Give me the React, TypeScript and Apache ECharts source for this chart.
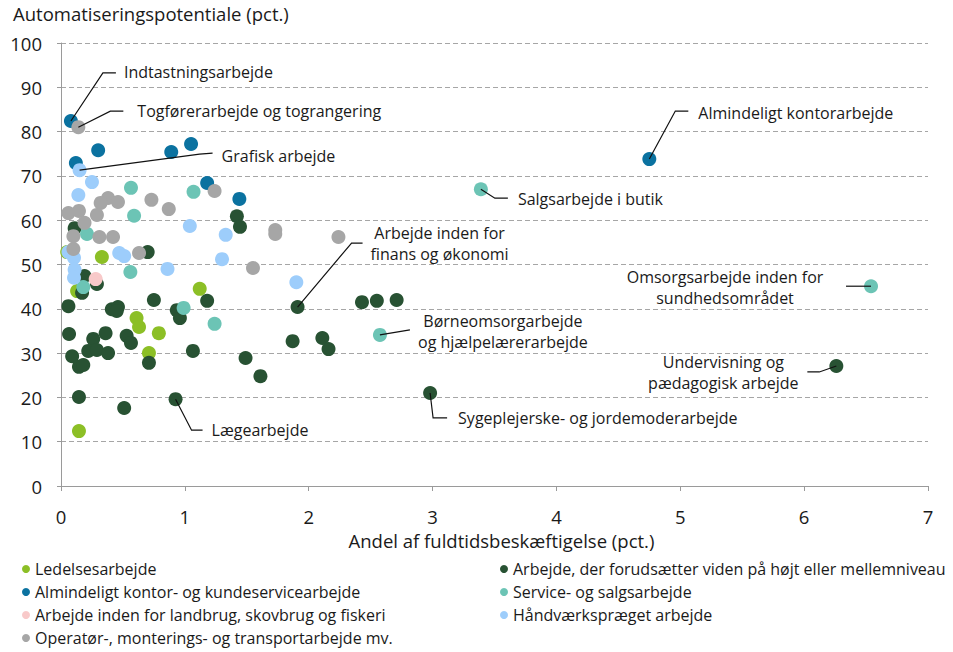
import React, { useEffect, useRef } from 'react';
import * as echarts from 'echarts';

const FONT = '"Open Sans", "Noto Sans", sans-serif';
const TEXT_COLOR = '#1a1a1a';

// Series names (legend order)
const nameLedelse = 'Ledelsesarbejde';
const nameHoejt = 'Arbejde, der forudsætter viden på højt eller mellemniveau';
const nameKontor = 'Almindeligt kontor- og kundeservicearbejde';
const nameService = 'Service- og salgsarbejde';
const nameLandbrug = 'Arbejde inden for landbrug, skovbrug og fiskeri';
const nameHaandvaerk = 'Håndværkspræget arbejde';
const nameOperatoer = 'Operatør-, monterings- og transportarbejde mv.';

const colorLedelse = '#8CBF26';
const colorHoejt = '#285233';
const colorKontor = '#0B72A0';
const colorService = '#6CC4B5';
const colorLandbrug = '#F8C9C9';
const colorHaandvaerk = '#9DCDFB';
const colorOperatoer = '#A6A6A6';

// [andel af fuldtidsbeskæftigelse, automatiseringspotentiale]
const ledelseData: [number, number][] = [
  [0.33, 51.7], [0.05, 52.8], [0.13, 44.0], [1.12, 44.5], [0.61, 37.9],
  [0.63, 35.9], [0.79, 34.5], [0.71, 30.0], [0.145, 12.4],
];

const hoejtData: [number, number][] = [
  [1.42, 60.9], [1.445, 58.5], [0.70, 52.8], [0.11, 58.2], [0.19, 47.4],
  [0.29, 45.6], [0.17, 43.6], [0.06, 40.6], [0.41, 39.9], [0.46, 40.4],
  [0.45, 39.5], [0.75, 42.0], [0.935, 39.7], [0.96, 37.9], [0.065, 34.3],
  [0.26, 33.2], [0.36, 34.5], [0.53, 33.9], [0.565, 32.3], [0.09, 29.3],
  [0.22, 30.5], [0.29, 30.7], [0.38, 30.0], [0.145, 26.9], [0.18, 27.3],
  [0.71, 27.8], [1.065, 30.5], [1.49, 28.9], [0.145, 20.1], [0.51, 17.6],
  [0.925, 19.6], [1.18, 41.8], [1.61, 24.8], [1.91, 40.4], [2.43, 41.5],
  [2.55, 41.8], [2.71, 42.0], [1.87, 32.7], [2.11, 33.4], [2.16, 30.9],
  [2.98, 21.0], [6.26, 27.1],
];

const kontorData: [number, number][] = [
  [0.08, 82.4], [0.30, 75.8], [0.89, 75.4], [1.05, 77.2], [0.12, 72.9],
  [1.18, 68.4], [1.44, 64.8], [4.75, 73.8],
];

const serviceData: [number, number][] = [
  [0.565, 67.3], [1.07, 66.4], [0.59, 61.0], [0.21, 56.9], [0.56, 48.3],
  [0.18, 44.9], [0.99, 40.2], [1.24, 36.6], [2.575, 34.1], [3.39, 67.0],
  [6.54, 45.1],
];

const landbrugData: [number, number][] = [[0.28, 46.7]];

const haandvaerkData: [number, number][] = [
  [0.15, 71.3], [0.25, 68.6], [0.14, 65.7], [1.04, 58.7], [1.33, 56.7],
  [1.30, 51.2], [0.86, 49.0], [1.90, 46.0], [0.47, 52.6], [0.51, 51.9],
  [0.06, 52.8], [0.105, 51.5], [0.11, 48.8], [0.105, 47.0],
];

const operatoerData: [number, number][] = [
  [0.14, 81.0], [1.24, 66.6], [0.73, 64.6], [0.87, 62.5], [0.38, 65.0],
  [0.32, 63.9], [0.46, 64.1], [0.06, 61.6], [0.145, 62.1], [0.29, 61.2],
  [0.19, 59.4], [0.10, 56.4], [0.31, 56.2], [0.42, 56.2], [0.10, 53.5],
  [0.63, 52.6], [1.55, 49.2], [1.73, 57.8], [1.73, 56.9], [2.24, 56.2],
];

const xAxisTitle = 'Andel af fuldtidsbeskæftigelse (pct.)';
const yAxisTitle = 'Automatiseringspotentiale (pct.)';

type Annotation = {
  point: [number, number];
  text: string;
  path: [number, number][]; // offsets from point (pixels)
  label: [number, number]; // offset of label anchor
  align: 'left' | 'center';
};

const annotations: Annotation[] = [
  { point: kontorData[0], text: 'Indtastningsarbejde', path: [[32, -48], [45, -48]], label: [53, -49], align: 'left' },
  { point: operatoerData[0], text: 'Togførerarbejde og tograngering', path: [[32, -16], [45, -16]], label: [59, -16], align: 'left' },
  { point: haandvaerkData[0], text: 'Grafisk arbejde', path: [[120, -16], [133, -17]], label: [142, -14], align: 'left' },
  { point: kontorData[7], text: 'Almindeligt kontorarbejde', path: [[26, -48], [39, -48]], label: [49, -46], align: 'left' },
  { point: serviceData[9], text: 'Salgsarbejde i butik', path: [[14, 9], [27, 9]], label: [37, 10], align: 'left' },
  { point: hoejtData[33], text: 'Arbejde inden for\nfinans og økonomi', path: [[54, -64], [65, -64]], label: [142, -64], align: 'center' },
  { point: serviceData[10], text: 'Omsorgsarbejde inden for\nsundhedsområdet', path: [[-25, 0]], label: [-146, 1.5], align: 'center' },
  { point: serviceData[8], text: 'Børneomsorgarbejde\nog hjælpelærerarbejde', path: [[30, -5]], label: [123, -3.5], align: 'center' },
  { point: hoejtData[41], text: 'Undervisning og\npædagogisk arbejde', path: [[-17, 6], [-29, 6]], label: [-113, 6.5], align: 'center' },
  { point: hoejtData[40], text: 'Sygeplejerske- og jordemoderarbejde', path: [[3, 25], [17, 25]], label: [28, 25], align: 'left' },
  { point: hoejtData[30], text: 'Lægearbejde', path: [[16, 31], [27, 31]], label: [36, 31], align: 'left' },
];

const mkSeries = (name: string, color: string, data: [number, number][]) => ({
  type: 'scatter',
  name,
  data,
  symbol: 'circle',
  symbolSize: 14,
  itemStyle: { color, opacity: 1 },
  emphasis: { disabled: true },
});

export default function App() {
  const ref = useRef<HTMLDivElement>(null);

  useEffect(() => {
    if (!ref.current) return;
    const chart = echarts.init(ref.current, undefined, { renderer: 'svg' });
    const legendText = { fontFamily: FONT, fontSize: 16, color: TEXT_COLOR, lineHeight: 16 };
    const legendBase = {
      orient: 'vertical',
      top: 561,
      height: 91,
      padding: 0,
      itemWidth: 8,
      itemHeight: 8,
      itemGap: 7,
      icon: 'circle',
      textStyle: legendText,
      selectedMode: false,
    };
    const option: any = {
      animation: false,
      textStyle: { fontFamily: FONT },
      grid: { left: 61, right: 25, top: 43, bottom: 166, containLabel: false },
      legend: [
        { ...legendBase, data: [nameLedelse, nameKontor, nameLandbrug, nameOperatoer], left: 22 },
        { ...legendBase, data: [nameHoejt, nameService, nameHaandvaerk], left: 500 },
      ],
      xAxis: {
        type: 'value',
        min: 0,
        max: 7,
        interval: 1,
        name: xAxisTitle,
        nameLocation: 'middle',
        nameGap: 42,
        nameTextStyle: { fontFamily: FONT, fontSize: 18.5, color: TEXT_COLOR, padding: [0, 0, 0, 14] },
        axisLine: { show: true, lineStyle: { color: '#9a9a9a', width: 1 } },
        axisTick: { show: true, length: 5, lineStyle: { color: '#9a9a9a' } },
        axisLabel: { fontFamily: FONT, fontSize: 18.5, color: TEXT_COLOR, margin: 21 },
        splitLine: { show: false },
      },
      yAxis: {
        type: 'value',
        min: 0,
        max: 100,
        interval: 10,
        axisLine: { show: true, lineStyle: { color: '#9a9a9a', width: 1 } },
        axisTick: { show: true, length: 4, lineStyle: { color: '#9a9a9a' } },
        axisLabel: { fontFamily: FONT, fontSize: 18.5, color: TEXT_COLOR, margin: 19 },
        splitLine: { show: true, lineStyle: { color: '#a6a6a6', type: [5, 3], width: 1 } },
      },
      series: [
        mkSeries(nameLedelse, colorLedelse, ledelseData),
        mkSeries(nameHoejt, colorHoejt, hoejtData),
        mkSeries(nameKontor, colorKontor, kontorData),
        mkSeries(nameService, colorService, serviceData),
        mkSeries(nameLandbrug, colorLandbrug, landbrugData),
        mkSeries(nameHaandvaerk, colorHaandvaerk, haandvaerkData),
        mkSeries(nameOperatoer, colorOperatoer, operatoerData),
      ],
    };
    chart.setOption(option);

    const elements: any[] = [
      {
        type: 'text',
        left: 13,
        top: 4,
        z: 100,
        style: { text: yAxisTitle, fill: TEXT_COLOR, font: `18.5px ${FONT}` },
      },
    ];
    annotations.forEach((a) => {
      const p = chart.convertToPixel({ gridIndex: 0 }, a.point) as number[];
      const [px, py] = p;
      const pts = [[px, py], ...a.path.map(([dx, dy]) => [px + dx, py + dy])];
      elements.push({
        type: 'polyline',
        z: 100,
        shape: { points: pts },
        style: { stroke: '#111', lineWidth: 1.2, fill: null },
        silent: true,
      });
      elements.push({
        type: 'text',
        z: 100,
        x: px + a.label[0],
        y: py + a.label[1],
        silent: true,
        style: {
          text: a.text,
          fill: TEXT_COLOR,
          font: `16px ${FONT}`,
          align: a.align,
          verticalAlign: 'middle',
          textAlign: a.align,
          textVerticalAlign: 'middle',
          lineHeight: 21,
        },
      });
    });
    chart.setOption({ graphic: { elements } });

    return () => chart.dispose();
  }, []);

  return <div ref={ref} style={{ width: 953, height: 652, position: 'absolute', left: 0, top: 0 }} />;
}
